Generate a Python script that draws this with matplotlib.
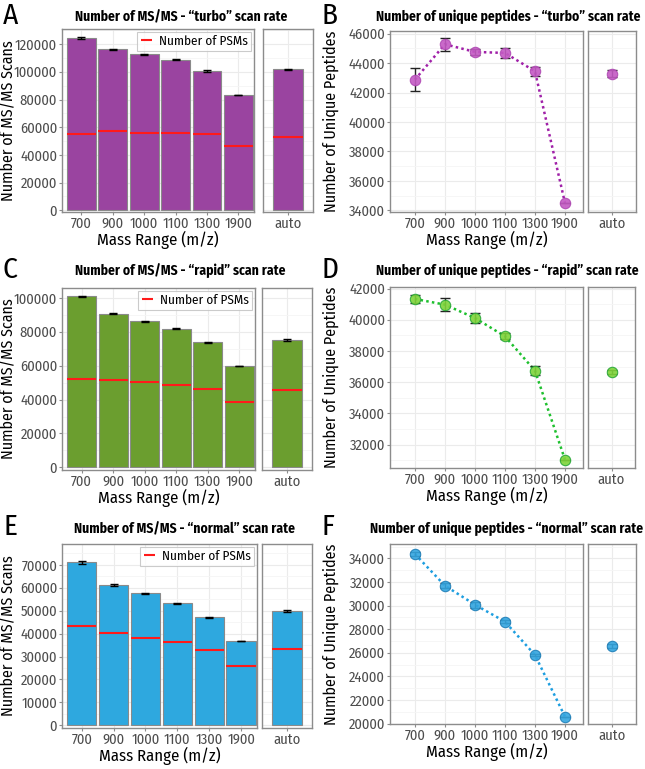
import numpy as np
import matplotlib
matplotlib.use("Agg")
import matplotlib.pyplot as plt
from matplotlib.ticker import MultipleLocator

plt.rcParams['font.family'] = ['Fira Sans Condensed', 'DejaVu Sans']

# ---- data ----
mass_ranges = ["700", "900", "1000", "1100", "1300", "1900"]

turbo_scans = [124150, 116200, 112560, 108700, 100700, 83570]
turbo_scans_err = [800, 500, 300, 500, 900, 0]
turbo_psms = [54830, 57490, 56040, 56040, 54830, 46380]
turbo_auto_scans, turbo_auto_err, turbo_auto_psm = 101690, 400, 53140

rapid_scans = [100980, 90780, 86270, 81960, 73920, 59600]
rapid_scans_err = [400, 300, 300, 400, 300, 0]
rapid_psms = [51960, 51570, 50390, 48820, 46080, 38630]
rapid_auto_scans, rapid_auto_err, rapid_auto_psm = 75290, 700, 45880

normal_scans = [71120, 61250, 57620, 53270, 47170, 36575]
normal_scans_err = [700, 400, 300, 200, 150, 0]
normal_psms = [43400, 40350, 38170, 36280, 32660, 25830]
normal_auto_scans, normal_auto_err, normal_auto_psm = 49930, 300, 33240

turbo_pep = [42880, 45280, 44760, 44690, 43445, 34500]
turbo_pep_err = [760, 440, 200, 330, 320, 0]
turbo_auto_pep, turbo_auto_pep_err = 43290, 250

rapid_pep = [41340, 40975, 40120, 38945, 36744, 31040]
rapid_pep_err = [280, 430, 320, 200, 300, 0]
rapid_auto_pep, rapid_auto_pep_err = 36660, 100

normal_pep = [34367, 31684, 30073, 28633, 25808, 20582]
normal_pep_err = [180, 200, 250, 120, 120, 0]
normal_auto_pep, normal_auto_pep_err = 26540, 180

W, H = 645, 769
fig = plt.figure(figsize=(W / 100, H / 100), dpi=100)

def box(l, t, r, b):
    return [l / W, 1 - b / H, (r - l) / W, (b - t) / H]

def style(ax, major, minor):
    ax.set_facecolor('white')
    for s in ax.spines.values():
        s.set_color('#8c8c8c')
        s.set_linewidth(1.0)
    ax.yaxis.set_major_locator(MultipleLocator(major))
    ax.yaxis.set_minor_locator(MultipleLocator(minor))
    ax.grid(True, which='major', color='#ebebeb', lw=0.8)
    ax.grid(True, which='minor', axis='y', color='#f5f5f5', lw=0.6)
    ax.set_axisbelow(True)
    ax.tick_params(which='major', length=2, color='#8c8c8c', labelsize=10.5,
                   labelcolor='#4d4d4d', pad=1.5)
    ax.tick_params(which='minor', length=0)

def bar_panel(main_box, auto_box, scans, err, psms, a_scan, a_err, a_psm,
              color, ylim, major, minor):
    ax = fig.add_axes(box(*main_box))
    x = np.arange(len(mass_ranges))
    ax.bar(x, scans, width=0.92, color=color, edgecolor='#8a8a8a', lw=0.8, zorder=2)
    ax.errorbar(x, scans, yerr=err, fmt='none', ecolor='black', elinewidth=1,
                capsize=3, capthick=1, zorder=3)
    ax.hlines(psms, x - 0.46, x + 0.46, color='#ff1a1a', lw=1.5, zorder=4,
              label='Number of PSMs')
    ax.set_xlim(-0.62, 5.5)
    ax.set_ylim(*ylim)
    ax.set_xticks(x)
    ax.set_xticklabels(mass_ranges)
    style(ax, major, minor)
    ax.set_xlabel('Mass Range (m/z)', fontsize=12, labelpad=0)
    ax.set_ylabel('Number of MS/MS Scans', fontsize=11.5)
    left = main_box[0]
    ax.yaxis.set_label_coords((17 - left) / (main_box[2] - left), 0.5)
    leg = ax.legend(loc='upper right', fontsize=9.5, frameon=True, fancybox=False,
                    handlelength=0.9, borderpad=0.25, borderaxespad=0.2,
                    handletextpad=0.5)
    leg.get_frame().set_edgecolor('#bfbfbf')
    leg.get_frame().set_linewidth(0.8)

    ax2 = fig.add_axes(box(*auto_box))
    ax2.bar([0], [a_scan], width=0.7, color=color, edgecolor='#8a8a8a', lw=0.8, zorder=2)
    ax2.errorbar([0], [a_scan], yerr=[a_err], fmt='none', ecolor='black',
                 elinewidth=1, capsize=3, capthick=1, zorder=3)
    ax2.hlines([a_psm], -0.35, 0.35, color='#ff1a1a', lw=1.5, zorder=4)
    ax2.set_xlim(-0.6, 0.6)
    ax2.set_ylim(*ylim)
    ax2.set_xticks([0])
    ax2.set_xticklabels(['auto'])
    style(ax2, major, minor)
    ax2.tick_params(axis='y', which='both', left=False, labelleft=False)

def pep_panel(main_box, auto_box, pep, err, a_pep, a_err, line_color, fill,
              edge, ylim, major, minor):
    ax = fig.add_axes(box(*main_box))
    x = np.arange(len(mass_ranges))
    ax.plot(x, pep, color=line_color, lw=1.8, ls=(0, (1, 1.3)), zorder=2)
    ax.errorbar(x, pep, yerr=err, fmt='none', ecolor='#222222', elinewidth=1,
                capsize=3.5, capthick=1, zorder=3)
    ax.plot(x, pep, 'o', ms=7.5, mfc=fill, mec=edge, mew=0.8, alpha=0.9, zorder=4)
    ax.set_xlim(-0.83, 5.6)
    ax.set_ylim(*ylim)
    ax.set_xticks(x)
    ax.set_xticklabels(mass_ranges)
    style(ax, major, minor)
    ax.set_xlabel('Mass Range (m/z)', fontsize=12, labelpad=0)
    ax.set_ylabel('Number of Unique Peptides', fontsize=11.5)
    left = main_box[0]
    ax.yaxis.set_label_coords((339 - left) / (main_box[2] - left), 0.5)

    ax2 = fig.add_axes(box(*auto_box))
    ax2.errorbar([0], [a_pep], yerr=[a_err], fmt='none', ecolor='#222222',
                 elinewidth=1, capsize=3.5, capthick=1, zorder=3)
    ax2.plot([0], [a_pep], 'o', ms=7.5, mfc=fill, mec=edge, mew=0.8, alpha=0.9, zorder=4)
    ax2.set_xlim(-0.6, 0.6)
    ax2.set_ylim(*ylim)
    ax2.set_xticks([0])
    ax2.set_xticklabels(['auto'])
    style(ax2, major, minor)
    ax2.tick_params(axis='y', which='both', left=False, labelleft=False)

# left column: MS/MS scans
bar_panel((62, 29, 254, 212), (263, 29, 313, 212), turbo_scans, turbo_scans_err,
          turbo_psms, turbo_auto_scans, turbo_auto_err, turbo_auto_psm,
          '#9a44a0', (-1200, 130900), 20000, 10000)
bar_panel((62, 288, 255, 470), (262, 288, 312, 470), rapid_scans, rapid_scans_err,
          rapid_psms, rapid_auto_scans, rapid_auto_err, rapid_auto_psm,
          '#6b9e2f', (-1570, 105900), 20000, 10000)
bar_panel((62, 544, 257, 728), (262, 544, 312, 728), normal_scans, normal_scans_err,
          normal_psms, normal_auto_scans, normal_auto_err, normal_auto_psm,
          '#2ea8df', (-1160, 79100), 10000, 5000)

# right column: unique peptides
pep_panel((390, 31, 583, 212), (588, 31, 636, 212), turbo_pep, turbo_pep_err,
          turbo_auto_pep, turbo_auto_pep_err, '#a020a8', '#c45ac4', '#b04ab4',
          (33890, 46180), 2000, 1000)
pep_panel((390, 287, 583, 468), (588, 287, 635, 468), rapid_pep, rapid_pep_err,
          rapid_auto_pep, rapid_auto_pep_err, '#1ec02e', '#7ed43a', '#2aa83a',
          (30504, 42107), 2000, 1000)
pep_panel((390, 544, 583, 724), (588, 544, 636, 724), normal_pep, normal_pep_err,
          normal_auto_pep, normal_auto_pep_err, '#1d9ee0', '#34a6e0', '#1f7fb8',
          (19960, 35215), 2000, 1000)

# titles and panel letters
titles = [
    (181, 17, 'Number of MS/MS - \u201cturbo\u201d scan rate'),
    (508, 17, 'Number of unique peptides - \u201cturbo\u201d scan rate'),
    (180, 271, 'Number of MS/MS - \u201crapid\u201d scan rate'),
    (507, 271, 'Number of unique peptides - \u201crapid\u201d scan rate'),
    (185, 529, 'Number of MS/MS - \u201cnormal\u201d scan rate'),
    (507, 529, 'Number of unique peptides - \u201cnormal\u201d scan rate'),
]
for tx, ty, t in titles:
    fig.text(tx / W, 1 - ty / H, t, ha='center', va='center', fontsize=9.8,
             fontweight='bold')

letters = [(3, 16, 'A'), (322, 16, 'B'), (3, 270, 'C'), (322, 270, 'D'),
           (3, 527, 'E'), (322, 527, 'F')]
for lx, ly, l in letters:
    fig.text(lx / W, 1 - ly / H, l, ha='left', va='center', fontsize=21,
             fontweight='normal')

fig.savefig('out.png', dpi=100)
